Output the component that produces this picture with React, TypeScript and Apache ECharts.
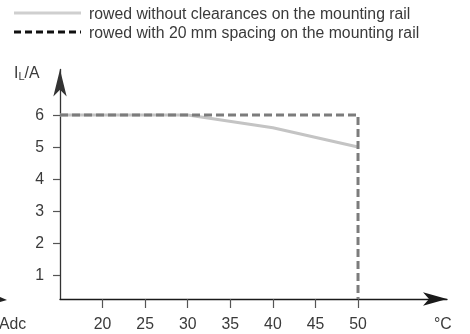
import React, { useEffect, useRef } from "react";
import * as echarts from "echarts";

const temperatures = [15, 30, 40, 50];
const currentWithout = [6, 6, 5.6, 5.0];
const spacedTemps = [15, 50, 50];
const currentSpaced = [6, 6, 0.25];
const xTicks = [20, 25, 30, 35, 40, 45, 50];
const yTicks = [1, 2, 3, 4, 5, 6];
const legendLabels = [
  "rowed without clearances on the mounting rail",
  "rowed with 20 mm spacing on the mounting rail",
];

const FONT = "Liberation Sans, Arial, sans-serif";
const FS = 15.8;
const TXT = "#3a3a3a";

export default function App() {
  const ref = useRef<HTMLDivElement>(null);
  useEffect(() => {
    if (!ref.current) return;
    const chart = echarts.init(ref.current, undefined, { renderer: "svg" });
    chart.setOption({
      animation: false,
      textStyle: { fontFamily: FONT },
      grid: { left: 60, right: 23, top: 69.5, bottom: 35 },
      xAxis: {
        type: "value",
        min: 15,
        max: 60.45,
        interval: 5,
        splitLine: { show: false },
        axisLine: {
          lineStyle: { color: "#1a1a1a", width: 1.3 },
          symbol: ["none", "arrow"],
          symbolSize: [10, 24],
        },
        axisTick: {
          customValues: xTicks,
          length: 9,
          lineStyle: { color: "#555", width: 1.2 },
        },
        axisLabel: {
          customValues: xTicks,
          margin: 16,
          fontSize: FS,
          color: TXT,
        },
      },
      yAxis: {
        type: "value",
        min: 0.25,
        max: 7.42,
        splitLine: { show: false },
        axisLine: {
          lineStyle: { color: "#333", width: 1.3 },
          symbol: ["none", "arrow"],
          symbolSize: [10, 27],
        },
        axisTick: {
          customValues: yTicks,
          length: 7,
          lineStyle: { color: "#555", width: 1.2 },
        },
        axisLabel: {
          customValues: yTicks,
          margin: 16,
          fontSize: FS,
          color: TXT,
        },
      },
      series: [
        {
          type: "line",
          data: temperatures.map((t, i) => [t, currentWithout[i]]),
          symbol: "none",
          lineStyle: { color: "#c4c4c4", width: 3 },
          z: 2,
        },
        {
          type: "line",
          data: spacedTemps.map((t, i) => [t, currentSpaced[i]]),
          symbol: "none",
          lineStyle: { color: "#7c7c7c", width: 3, type: [8, 4] },
          z: 3,
        },
      ],
      graphic: [
        {
          type: "line",
          shape: { x1: 14, y1: 13, x2: 81, y2: 13 },
          style: { stroke: "#cfcfcf", lineWidth: 3 },
        },
        {
          type: "line",
          shape: { x1: 14, y1: 32, x2: 81, y2: 32 },
          style: { stroke: "#111", lineWidth: 3, lineDash: [7, 4] },
        },
        {
          type: "text",
          x: 89,
          y: 13,
          style: {
            text: legendLabels[0],
            fontSize: FS,
            fill: TXT,
            fontFamily: FONT,
            verticalAlign: "middle",
          },
        },
        {
          type: "text",
          x: 89,
          y: 32,
          style: {
            text: legendLabels[1],
            fontSize: FS,
            fill: TXT,
            fontFamily: FONT,
            verticalAlign: "middle",
          },
        },
        {
          type: "text",
          x: 14,
          y: 72,
          style: {
            text: "{a|I}{b|L}{a|/A}",
            fontFamily: FONT,
            verticalAlign: "middle",
            rich: {
              a: { fontSize: FS, fill: TXT, fontFamily: FONT },
              b: { fontSize: 11, fill: TXT, fontFamily: FONT, padding: [7, 0, 0, 0] },
            },
          },
        },
        {
          type: "text",
          x: -1,
          y: 323,
          style: {
            text: "Adc",
            fontSize: FS,
            fill: TXT,
            fontFamily: FONT,
            verticalAlign: "middle",
          },
        },
        {
          type: "text",
          x: 434,
          y: 323,
          style: {
            text: "°C",
            fontSize: FS,
            fill: TXT,
            fontFamily: FONT,
            verticalAlign: "middle",
          },
        },
        {
          type: "polygon",
          shape: { points: [[0, 297], [7, 300], [0, 302]] },
          style: { fill: "#222" },
        },
      ],
    });
    return () => chart.dispose();
  }, []);
  return (
    <div
      ref={ref}
      style={{ position: "fixed", left: 0, top: 0, width: 470, height: 334 }}
    />
  );
}
